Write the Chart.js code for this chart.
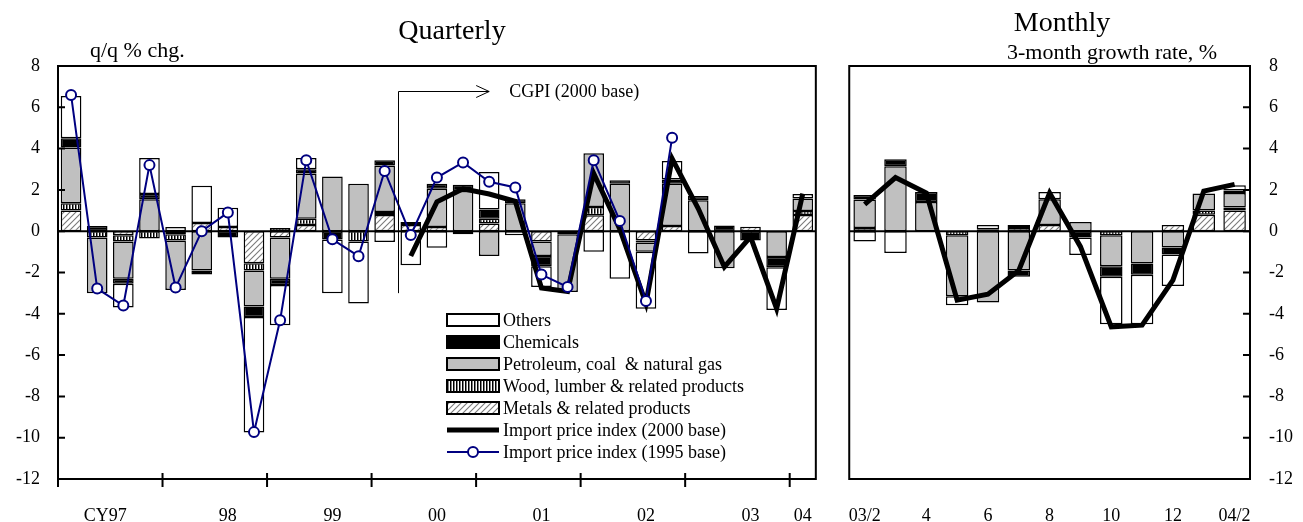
<!DOCTYPE html>
<html>
<head>
<meta charset="utf-8">
<script src="https://cdn.jsdelivr.net/npm/chart.js@4.4.1/dist/chart.umd.min.js"></script>
<style>
  body { margin: 0; background: #fff; }
  #wrap { position: relative; width: 1303px; height: 522px; overflow: hidden; font-family: "Liberation Serif", "Times New Roman", serif; color: #000; }
  canvas { position: absolute; top: 0; }
  .txt { position: absolute; white-space: nowrap; line-height: 1; }
</style>
</head>
<body>
<div id="wrap">
  <canvas id="quarterly" width="830" height="522" style="left:0"></canvas>
  <canvas id="monthly" width="473" height="522" style="left:830px"></canvas>
  <div class="txt" style="left:452px;top:16px;font-size:28px;transform:translateX(-50%)">Quarterly</div>
  <div class="txt" style="left:1062px;top:8px;font-size:28px;transform:translateX(-50%)">Monthly</div>
  <div class="txt" style="left:90px;top:39px;font-size:22px">q/q % chg.</div>
  <div class="txt" style="left:1007px;top:41px;font-size:22px">3-month growth rate, %</div>
</div>
<script>
// ============================================================================
// データ(四半期 / 月次)
// ============================================================================

const quarterLabels = ["", "", "CY97", "", "", "", "98", "", "", "", "99", "", "", "", "00", "", "", "", "01", "", "", "", "02", "", "", "", "03", "", "04"];
const qMetals = [1.0, 0, -0.2, 0, -0.15, 0.4, 0.2, -1.55, -0.3, 0.3, 0, 0, 0.78, 0.3, 0.2, 0, 0.37, 0, -0.5, -0.15, 0.77, 0, -0.45, 0.25, 0, 0, 0.22, 0, 0.78];
const qWood = [0.35, -0.3, -0.3, -0.35, -0.3, 0, 0, -0.35, 0.15, 0.3, 0, -0.5, 0.15, 0, 0, -0.15, 0.23, 0, 0, 0, 0.4, 0, -0.1, 0, 0, 0, 0, 0, 0.2];
const qPetroleum = [2.7, -2.7, -1.8, 1.55, -2.4, -1.9, 0, -1.75, -2.0, 2.2, 2.65, 2.3, 2.25, 0, 1.85, 1.95, -1.2, 1.35, -0.7, -2.8, 2.6, 2.3, -0.45, 2.05, 1.5, -1.8, 0, -1.25, 0.6];
const qChemicals = [0.45, 0.25, -0.25, 0.25, 0, -0.2, -0.3, -0.5, -0.3, 0.2, -0.4, 0, 0.26, 0.15, 0.25, 0.3, 0.45, 0.2, -0.5, 0, 0, 0.17, 0, 0.2, 0.2, 0.28, -0.45, -0.5, 0];
const qOthers = [2.05, 0, -1.15, 1.75, 0.2, 1.8, 0.93, -5.6, -1.95, 0.55, -2.6, -3.0, -0.52, -1.65, -0.8, 0, 1.82, -0.2, -1.0, 0, -1.0, -2.3, -2.75, 0.9, -1.08, 0, 0, -2.07, 0.22];
const qImport2000 = [null, null, null, null, null, null, null, null, null, null, null, null, null, -1.2, 1.42, 2.05, 1.8, 1.45, -2.75, -2.92, 2.8, 0.1, -3.5, 3.52, 1.1, -1.73, -0.27, -3.75, 1.82];
const qImport1995 = [6.6, -2.78, -3.6, 3.2, -2.73, 0.0, 0.9, -9.73, -4.31, 3.44, -0.39, -1.21, 2.92, -0.19, 2.6, 3.33, 2.39, 2.12, -2.1, -2.7, 3.44, 0.5, -3.38, 4.52, null, null, null, null, null];

const monthLabels = ["03/2", "", "4", "", "6", "", "8", "", "10", "", "12", "", "04/2"];
const mMetals = [0.15, 0, 0, 0, 0.1, 0.15, 0.3, 0, 0, 0, 0.3, 0.8, 1.0];
const mWood = [0, 0, 0, -0.2, 0, 0, 0, 0, -0.2, 0, 0, 0.2, 0.15];
const mPetroleum = [1.38, 3.15, 1.42, -2.95, -3.45, -1.9, 1.25, 0.45, -1.5, -1.56, -0.79, 0.82, 0.7];
const mChemicals = [0.22, 0.33, 0.48, 0, 0, -0.3, 0, -0.3, -0.5, -0.55, -0.34, 0, 0.12];
const mOthers = [-0.5, -1.05, 0, -0.43, 0.2, 0.15, 0.35, -0.85, -2.3, -2.4, -1.52, 0, 0.25];
const mImport2000 = [1.3, 2.6, 1.85, -3.34, -3.05, -1.9, 1.85, -0.75, -4.63, -4.55, -2.37, 1.94, 2.27];

const yTicksMin = -12;
const yTicksMax = 8;

// ============================================================================
// 塗りパターン
// ============================================================================

const makePattern = (w, h, draw) => {
    const c = document.createElement("canvas");
    c.width = w;
    c.height = h;
    const g = c.getContext("2d");
    g.fillStyle = "#fff";
    g.fillRect(0, 0, w, h);
    draw(g);
    return g.createPattern(c, "repeat");
};

// 斜線(金属)
const hatch = makePattern(6, 6, (g) => {
    g.strokeStyle = "#7a7a7a";
    g.lineWidth = 1.1;
    g.beginPath();
    g.moveTo(0, 6); g.lineTo(6, 0);
    g.moveTo(-1, 1); g.lineTo(1, -1);
    g.moveTo(5, 7); g.lineTo(7, 5);
    g.stroke();
});

// 縦縞(木材)
const stripes = makePattern(3, 4, (g) => {
    g.fillStyle = "#000";
    g.fillRect(0, 0, 1.5, 4);
});

Chart.defaults.font.family = '"Liberation Serif", "Times New Roman", serif';
Chart.defaults.font.size = 18;
Chart.defaults.color = "#000";

const clean = (arr) => arr.map((v) => (v === 0 ? null : v));

const barSet = (label, data, fill) => ({
    type: "bar",
    label,
    data: clean(data),
    backgroundColor: fill,
    borderColor: "#000",
    borderWidth: 1.5,
    borderSkipped: false,
    stack: "parts",
});

const thickLine = (data) => ({
    type: "line",
    label: "Import price index (2000 base)",
    data,
    borderColor: "#000",
    borderWidth: 5,
    borderJoinStyle: "miter",
    pointRadius: 0,
    tension: 0,
    fill: false,
    stack: "ipi2000",
});

// ============================================================================
// 枠線・目盛り
// ============================================================================

const frame = {
    id: "frame",
    beforeDatasetsDraw(chart) {
        const { ctx, chartArea: a, scales: { y } } = chart;
        const y0 = y.getPixelForValue(0);
        ctx.save();
        ctx.strokeStyle = "#000";
        ctx.lineWidth = 2;
        ctx.beginPath();
        ctx.moveTo(a.left, y0);
        ctx.lineTo(a.right, y0);
        ctx.stroke();
        ctx.restore();
    },
    afterDraw(chart, args, opts) {
        const { ctx, chartArea: a, scales: { x, y } } = chart;
        ctx.save();
        ctx.strokeStyle = "#000";
        ctx.lineWidth = 2;
        ctx.strokeRect(a.left, a.top, a.right - a.left, a.bottom - a.top);

        // 内向きの目盛り
        const tx = opts.side === "right" ? a.right : a.left;
        const dir = opts.side === "right" ? -1 : 1;
        ctx.beginPath();
        y.ticks.forEach((t) => {
            const py = y.getPixelForValue(t.value);
            ctx.moveTo(tx, py);
            ctx.lineTo(tx + dir * 7, py);
        });
        // 年の区切り
        if (opts.yearTicks) {
            for (let i = 0; i < x.ticks.length; i += 4) {
                const px = i === 0 ? a.left : (x.getPixelForValue(i - 1) + x.getPixelForValue(i)) / 2;
                ctx.moveTo(px, a.bottom - 6);
                ctx.lineTo(px, a.bottom + 8);
            }
        }
        ctx.stroke();
        ctx.restore();
    },
};

// 凡例(グラフ内)
const boxLegend = {
    id: "boxLegend",
    afterDraw(chart) {
        const { ctx, chartArea: a } = chart;
        const items = [...chart.data.datasets].reverse();
        const x0 = a.left + 389;
        const y0 = a.top + 254;
        ctx.save();
        ctx.font = '18px "Liberation Serif", serif';
        ctx.textBaseline = "middle";
        items.forEach((d, i) => {
            const cy = y0 + i * 22;
            if (d.type === "bar") {
                ctx.fillStyle = d.backgroundColor;
                ctx.fillRect(x0, cy - 6, 52, 12);
                ctx.strokeStyle = "#000";
                ctx.lineWidth = 2;
                ctx.strokeRect(x0, cy - 6, 52, 12);
            } else {
                ctx.strokeStyle = d.borderColor;
                ctx.lineWidth = d.borderWidth;
                ctx.beginPath();
                ctx.moveTo(x0, cy);
                ctx.lineTo(x0 + 52, cy);
                ctx.stroke();
                if (d.pointRadius) {
                    ctx.beginPath();
                    ctx.arc(x0 + 26, cy, d.pointRadius, 0, Math.PI * 2);
                    ctx.fillStyle = d.pointBackgroundColor;
                    ctx.fill();
                    ctx.lineWidth = d.pointBorderWidth;
                    ctx.stroke();
                }
            }
            ctx.fillStyle = "#000";
            ctx.fillText(d.label, x0 + 56, cy + 1);
        });
        ctx.restore();
    },
};

// CGPI の矢印
const cgpiNote = {
    id: "cgpiNote",
    afterDatasetsDraw(chart) {
        const { ctx, scales: { x, y } } = chart;
        const px = Math.round((x.getPixelForValue(12) + x.getPixelForValue(13)) / 2) + 0.5;
        const top = Math.round(y.getPixelForValue(6.8)) + 0.5;
        const bottom = y.getPixelForValue(-3);
        const tip = x.getPixelForValue(16);
        ctx.save();
        ctx.strokeStyle = "#000";
        ctx.lineWidth = 1;
        ctx.beginPath();
        ctx.moveTo(px, bottom);
        ctx.lineTo(px, top);
        ctx.lineTo(tip, top);
        ctx.moveTo(tip - 13, top - 6);
        ctx.lineTo(tip, top);
        ctx.lineTo(tip - 13, top + 6);
        ctx.stroke();
        ctx.font = '18px "Liberation Serif", serif';
        ctx.textBaseline = "middle";
        ctx.fillStyle = "#000";
        ctx.fillText("CGPI (2000 base)", tip + 20, top + 1);
        ctx.restore();
    },
};

// ============================================================================
// 四半期グラフ
// ============================================================================

new Chart(document.getElementById("quarterly"), {
    type: "bar",
    data: {
        labels: quarterLabels,
        datasets: [
            {
                type: "line",
                label: "Import price index (1995 base)",
                data: qImport1995,
                borderColor: "#000080",
                borderWidth: 2,
                pointRadius: 5,
                pointBackgroundColor: "#fff",
                pointBorderColor: "#000080",
                pointBorderWidth: 2,
                tension: 0,
                fill: false,
                stack: "ipi1995",
            },
            thickLine(qImport2000),
            barSet("Metals & related products", qMetals, hatch),
            barSet("Wood, lumber & related products", qWood, stripes),
            barSet("Petroleum, coal  & natural gas", qPetroleum, "#c0c0c0"),
            barSet("Chemicals", qChemicals, "#000"),
            barSet("Others", qOthers, "#fff"),
        ],
    },
    options: {
        responsive: false,
        animation: false,
        categoryPercentage: 1,
        barPercentage: 0.79,
        layout: { autoPadding: false, padding: { top: 66, right: 14, left: 0, bottom: 0 } },
        plugins: {
            legend: { display: false },
            tooltip: { enabled: false },
            frame: { side: "left", yearTicks: true },
        },
        scales: {
            x: {
                stacked: true,
                grid: { display: false },
                border: { display: false },
                ticks: {
                    autoSkip: false,
                    maxRotation: 0,
                    padding: 18,
                    // "CY97" は "97" の位置に合わせて左へずらす
                    callback: (v, i) => (i === 2 ? quarterLabels[i] + "\u2003\u2003" : quarterLabels[i]),
                },
                afterFit: (s) => { s.height = 43; },
            },
            y: {
                stacked: true,
                min: yTicksMin,
                max: yTicksMax,
                grid: { display: false },
                border: { display: false },
                ticks: { stepSize: 2, padding: 10 },
                afterFit: (s) => { s.width = 58; },
            },
        },
    },
    plugins: [frame, cgpiNote, boxLegend],
});

// ============================================================================
// 月次グラフ
// ============================================================================

new Chart(document.getElementById("monthly"), {
    type: "bar",
    data: {
        labels: monthLabels,
        datasets: [
            thickLine(mImport2000),
            barSet("Metals & related products", mMetals, hatch),
            barSet("Wood, lumber & related products", mWood, stripes),
            barSet("Petroleum, coal  & natural gas", mPetroleum, "#c0c0c0"),
            barSet("Chemicals", mChemicals, "#000"),
            barSet("Others", mOthers, "#fff"),
        ],
    },
    options: {
        responsive: false,
        animation: false,
        categoryPercentage: 1,
        barPercentage: 0.73,
        layout: { autoPadding: false, padding: { top: 66, right: 0, left: 17, bottom: 0 } },
        plugins: {
            legend: { display: false },
            tooltip: { enabled: false },
            frame: { side: "right", yearTicks: false },
        },
        scales: {
            x: {
                stacked: true,
                grid: { display: false },
                border: { display: false },
                ticks: { autoSkip: false, maxRotation: 0, padding: 18 },
                afterFit: (s) => { s.height = 43; },
            },
            y: {
                position: "right",
                stacked: true,
                min: yTicksMin,
                max: yTicksMax,
                grid: { display: false },
                border: { display: false },
                ticks: { stepSize: 2, padding: 11 },
                afterFit: (s) => { s.width = 53; },
            },
        },
    },
    plugins: [frame],
});
</script>
</body>
</html>
